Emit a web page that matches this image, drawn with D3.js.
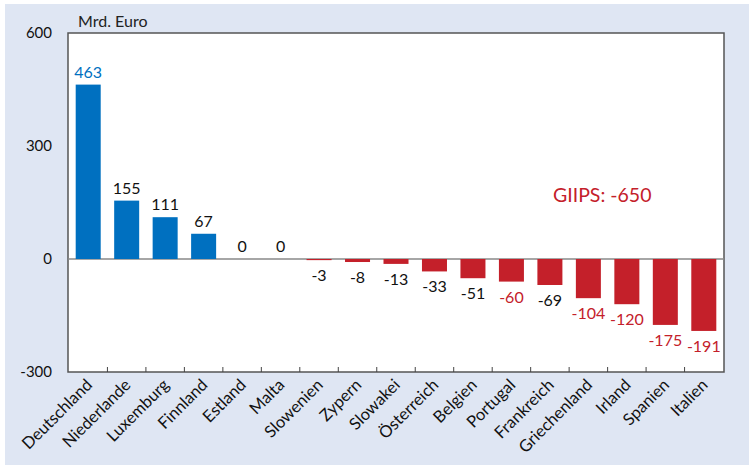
<!DOCTYPE html>
<html>
<head>
<meta charset="utf-8">
<script src="https://cdn.jsdelivr.net/npm/d3@7"></script>
<style>
  body { margin: 0; background: #fff; }
  text { font-family: Lato, "Liberation Sans", sans-serif; }
</style>
</head>
<body>
<script>
// data
let countries = ['Deutschland', 'Niederlande', 'Luxemburg', 'Finnland', 'Estland', 'Malta',
  'Slowenien', 'Zypern', 'Slowakei', 'Österreich', 'Belgien', 'Portugal', 'Frankreich',
  'Griechenland', 'Irland', 'Spanien', 'Italien'];
let values = [463, 155, 111, 67, 0, 0, -3, -8, -13, -33, -51, -60, -69, -104, -120, -175, -191];
let giips = ['Portugal', 'Griechenland', 'Irland', 'Spanien', 'Italien'];
let yTicks = [600, 300, 0, -300];

let data = countries.map((c, i) => ({ name: c, value: values[i] }));

let width = 753, height = 468;
let margin = { top: 33, bottom: 96, left: 68, right: 29 };
let blue = '#0070c0', red = '#c4202a';

let svg = d3.select('body')
  .append('svg')
  .attr('width', width)
  .attr('height', height);

// background panel
svg.append('rect')
  .attr('x', 5).attr('y', 4)
  .attr('width', 744).attr('height', 461)
  .attr('fill', '#dfe6f3');

let yScale = d3.scaleLinear()
  .domain([-300, 600])
  .range([height - margin.bottom, margin.top]);

let xScale = d3.scaleBand()
  .domain(countries)
  .range([margin.left, width - margin.right])
  .paddingInner(0.35)
  .paddingOuter(0.2);

// plot area
svg.append('rect')
  .attr('x', margin.left).attr('y', margin.top)
  .attr('width', width - margin.left - margin.right)
  .attr('height', height - margin.top - margin.bottom)
  .attr('fill', '#fff')
  .attr('stroke', '#555')
  .attr('stroke-width', 1.5);

// zero line
svg.append('line')
  .attr('x1', margin.left).attr('x2', width - margin.right)
  .attr('y1', yScale(0)).attr('y2', yScale(0))
  .attr('stroke', '#888').attr('stroke-width', 1.5);

// bars
svg.selectAll('rect.bar')
  .data(data)
  .enter()
  .append('rect')
  .attr('class', 'bar')
  .attr('x', d => xScale(d.name))
  .attr('y', d => yScale(Math.max(0, d.value)))
  .attr('width', xScale.bandwidth())
  .attr('height', d => Math.abs(yScale(d.value) - yScale(0)))
  .attr('fill', d => d.value > 0 ? blue : red);

// value labels
svg.selectAll('text.val')
  .data(data)
  .enter()
  .append('text')
  .attr('class', 'val')
  .attr('x', d => xScale(d.name) + xScale.bandwidth() / 2)
  .attr('y', d => d.value >= 0 ? yScale(d.value) - 7 : yScale(d.value) + 21)
  .attr('text-anchor', 'middle')
  .attr('font-size', 16)
  .attr('fill', d => d.name === 'Deutschland' ? blue : giips.includes(d.name) ? red : '#111')
  .text(d => d.value);

// x axis with inward ticks at band boundaries
let step = xScale.step();
let axisY = yScale(-300);
svg.selectAll('line.xtick')
  .data(countries.slice(1))
  .enter()
  .append('line')
  .attr('class', 'xtick')
  .attr('x1', d => xScale(d) - step * xScale.paddingInner() / 2)
  .attr('x2', d => xScale(d) - step * xScale.paddingInner() / 2)
  .attr('y1', axisY).attr('y2', axisY - 5)
  .attr('stroke', '#444');

svg.selectAll('text.xlab')
  .data(countries)
  .enter()
  .append('text')
  .attr('class', 'xlab')
  .attr('transform', d => `translate(${xScale(d) + xScale.bandwidth() / 2 + 5},${axisY + 14}) rotate(-45)`)
  .attr('text-anchor', 'end')
  .attr('font-size', 16.5)
  .attr('fill', '#111')
  .text(d => d);

// y labels
svg.selectAll('text.ylab')
  .data(yTicks)
  .enter()
  .append('text')
  .attr('class', 'ylab')
  .attr('x', 52)
  .attr('y', d => yScale(d) + 5)
  .attr('text-anchor', 'end')
  .attr('font-size', 15)
  .attr('fill', '#111')
  .text(d => d);

svg.append('text')
  .attr('x', 78).attr('y', 27)
  .attr('font-size', 16)
  .attr('fill', '#222')
  .text('Mrd. Euro');

svg.append('text')
  .attr('x', 553).attr('y', 202)
  .attr('font-size', 19.5)
  .attr('fill', red)
  .text('GIIPS: -650');
</script>
</body>
</html>
